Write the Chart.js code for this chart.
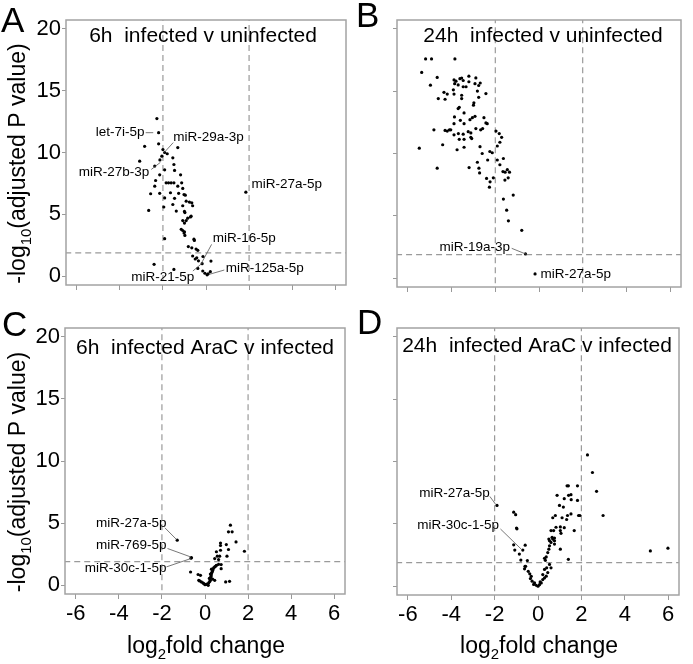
<!DOCTYPE html>
<html>
<head>
<meta charset="utf-8">
<script src="https://cdn.jsdelivr.net/npm/chart.js@4.4.1/dist/chart.umd.min.js"></script>
<style>
  body { margin: 0; background: #fff; }
  canvas { position: absolute; }
</style>
</head>
<body>
<canvas id="cA" width="350" height="300" style="left:0;top:0"></canvas>
<canvas id="cB" width="343" height="300" style="left:350px;top:0"></canvas>
<canvas id="cC" width="350" height="364" style="left:0;top:300px"></canvas>
<canvas id="cD" width="343" height="364" style="left:350px;top:300px"></canvas>
<script>
// log2 fold change / -log10 adjusted P
const pts6hInf = [[-2.28,12.74],[-2.2,11.6],[-2.85,10.5],[-2.2,10.7],[-2.0,10.24],[-1.92,10.0],[-1.8,9.9],[-2.05,9.7],[-1.31,10.4],[-3.08,9.3],[-2.14,9.4],[-1.54,9.57],[-1.49,9.03],[-2.38,8.9],[-1.92,8.6],[-1.46,8.55],[-2.15,8.2],[-1.18,8.2],[-2.34,7.74],[-1.85,7.55],[-1.74,7.55],[-1.62,7.55],[-1.49,7.55],[-1.13,7.55],[-2.38,7.28],[-1.31,7.28],[-1.08,7.1],[-2.57,6.67],[-2.15,6.7],[-1.65,6.75],[-1.27,6.7],[-1.02,6.6],[-0.96,6.55],[-1.92,6.33],[-1.46,6.3],[-0.92,6.07],[-0.77,6.0],[-0.66,5.94],[-1.96,5.6],[-1.54,5.8],[-1.08,5.7],[-2.66,5.32],[-0.62,5.7],[-1.0,5.24],[-0.98,5.15],[-1.38,5.27],[-0.69,4.86],[-0.85,4.7],[-0.92,4.5],[-1.08,4.5],[-1.0,4.3],[-0.72,4.8],[-1.15,3.8],[-1.08,3.7],[-1.0,3.6],[-1.92,3.04],[-1.02,3.5],[-0.98,3.3],[-0.54,2.9],[-0.56,3.0],[-0.82,2.4],[-0.66,2.3],[-0.46,2.2],[-0.38,2.1],[-0.62,1.64],[-0.43,1.5],[-0.5,1.4],[-0.35,1.25],[-0.14,1.6],[0.23,1.23],[-0.18,1.02],[-2.41,0.97],[-1.49,0.56],[-0.38,0.64],[-0.15,0.43],[-0.05,0.25],[0.05,0.12],[0.1,0.2],[0.2,0.38],[1.85,6.8]];
const pts24hInf = [[-5.19,17.58],[-4.92,17.58],[-3.85,17.58],[-5.37,16.5],[-4.66,16.1],[-4.97,15.48],[-3.21,16.2],[-2.89,16.06],[-3.89,15.9],[-3.8,15.8],[-3.62,16.0],[-3.54,16.05],[-3.47,15.85],[-3.7,15.5],[-3.86,15.6],[-3.21,15.75],[-2.93,15.6],[-2.69,15.65],[-2.76,15.45],[-3.47,15.35],[-3.34,15.35],[-3.92,15.1],[-4.35,14.9],[-4.2,14.76],[-3.89,14.76],[-2.82,15.0],[-2.43,14.8],[-4.61,14.4],[-4.3,14.35],[-3.54,14.67],[-3.54,14.4],[-2.76,14.5],[-2.98,14.06],[-3.0,13.87],[-3.65,13.7],[-3.7,13.6],[-3.87,12.93],[-3.43,13.25],[-3.16,12.71],[-3.05,12.87],[-2.93,12.98],[-3.89,12.39],[-3.6,12.66],[-3.43,12.39],[-2.52,12.87],[-2.43,12.45],[-2.37,12.39],[-4.81,11.9],[-4.3,11.85],[-4.2,11.8],[-4.1,11.9],[-4.04,11.9],[-3.89,11.5],[-3.69,11.6],[-3.47,11.55],[-3.24,11.75],[-3.12,11.65],[-2.89,12.0],[-2.67,11.9],[-2.58,12.0],[-1.97,11.8],[-1.82,11.6],[-1.71,11.3],[-3.65,11.14],[-3.43,11.14],[-3.12,11.3],[-3.08,11.2],[-1.79,10.9],[-1.91,10.6],[-5.48,10.43],[-4.41,10.7],[-3.75,10.3],[-3.43,10.5],[-2.7,10.55],[-2.25,10.16],[-2.14,10.06],[-2.6,10.0],[-2.35,9.48],[-1.91,9.48],[-1.63,9.6],[-2.82,9.3],[-1.79,9.1],[-4.66,8.82],[-3.2,8.87],[-2.75,8.82],[-2.72,8.44],[-1.45,8.7],[-1.55,8.5],[-1.65,8.55],[-1.35,8.5],[-2.4,8.0],[-2.24,7.73],[-2.09,8.05],[-2.27,7.3],[-1.56,7.87],[-1.41,8.05],[-1.18,6.67],[-1.63,6.35],[-1.48,5.46],[-1.4,4.6],[-0.79,3.84],[-0.62,1.95],[-0.18,0.35]];
const pts6hAraC = [[-1.29,3.63],[-0.63,2.23],[-0.65,2.18],[-0.67,1.07],[-0.32,0.87],[-0.21,0.8],[-0.29,0.4],[-0.25,0.35],[-0.17,0.27],[-0.1,0.2],[-0.05,0.13],[0.0,0.05],[0.06,0.08],[0.1,0.1],[0.15,0.0],[0.17,0.19],[0.22,0.3],[0.2,0.55],[0.25,0.4],[0.35,0.5],[0.26,0.62],[0.28,0.7],[0.29,0.83],[0.25,0.9],[0.3,0.95],[0.32,1.05],[0.35,1.15],[0.37,1.26],[0.3,1.3],[0.4,1.4],[0.45,1.48],[0.5,1.55],[0.53,1.61],[0.63,1.69],[0.75,1.67],[0.75,1.34],[0.45,0.4],[0.96,0.27],[1.14,0.32],[0.57,2.34],[0.68,2.34],[0.53,2.7],[0.72,2.82],[0.72,3.2],[0.72,3.4],[0.99,3.28],[1.09,2.88],[1.02,2.34],[1.44,3.49],[1.18,4.84],[1.09,4.3],[1.26,4.3],[1.83,2.74],[0.45,2.15],[0.63,2.07]];
const pts24hAraC = [[-1.89,6.48],[-1.12,5.94],[-1.03,5.74],[-0.99,4.67],[-0.97,4.6],[-1.12,3.32],[-1.07,2.9],[-0.7,2.9],[-0.59,3.29],[-0.86,2.58],[-0.79,2.1],[-0.49,2.06],[-0.57,1.6],[-0.6,1.6],[-0.62,1.4],[-0.45,1.2],[-0.38,1.0],[-0.31,0.8],[-0.35,0.62],[-0.27,0.41],[-0.2,0.15],[-0.16,0.27],[-0.08,0.08],[0.0,0.0],[0.07,0.13],[0.1,0.35],[0.15,0.27],[0.22,0.54],[0.3,0.67],[0.38,0.81],[0.22,0.94],[0.45,1.1],[0.3,1.35],[0.4,1.48],[0.53,1.75],[0.6,1.48],[0.3,2.24],[0.38,2.35],[0.34,2.08],[0.45,2.7],[0.5,2.97],[0.53,3.24],[0.6,3.51],[0.68,3.78],[0.76,3.86],[0.65,3.92],[0.53,3.65],[0.76,3.65],[0.5,3.78],[0.76,3.38],[0.6,4.46],[0.72,4.46],[0.68,5.49],[0.8,5.67],[1.03,4.46],[1.06,4.24],[1.03,2.97],[0.83,4.73],[1.03,4.76],[1.21,4.7],[1.11,5.49],[1.32,5.35],[1.36,5.67],[1.52,5.8],[0.99,6.48],[1.17,6.35],[1.21,7.02],[1.41,7.29],[1.52,7.34],[1.53,6.94],[1.34,8.05],[1.4,8.05],[0.88,7.29],[1.82,8.05],[1.82,6.88],[1.87,5.67],[1.93,5.67],[1.67,4.46],[1.4,2.16],[2.28,10.53],[2.51,9.12],[2.7,7.61],[3.0,5.67],[5.18,2.83],[5.99,3.05]];

const xTicks = [-6, -4, -2, 0, 2, 4, 6];
const yTicks = [0, 5, 10, 15, 20];
const foldCut = [-2, 2];
const pCut = 1.9;

const titles = ['6h  infected v uninfected', '24h  infected v uninfected', '6h  infected AraC v infected', '24h  infected AraC v infected'];

// labelled miRNAs: text anchor and leader line, in data units
const labelsA = [
  { text: 'let-7i-5p', x: -2.86, y: 11.6, align: 'right', line: [-2.8, 11.6, -2.45, 11.6] },
  { text: 'miR-29a-3p', x: -1.52, y: 11.2, align: 'left', line: [-1.52, 10.8, -1.94, 10.0] },
  { text: 'miR-27b-3p', x: -2.63, y: 8.4, align: 'right', line: [-2.54, 8.63, -2.12, 9.2] },
  { text: 'miR-27a-5p', x: 2.11, y: 7.42, align: 'left', line: null },
  { text: 'miR-16-5p', x: 0.31, y: 3.06, align: 'left', line: [0.26, 2.58, -0.2, 1.1] },
  { text: 'miR-21-5p', x: -0.54, y: -0.05, align: 'right', line: [-0.61, 0.43, -0.15, 1.1] },
  { text: 'miR-125a-5p', x: 0.92, y: 0.62, align: 'left', line: [0.85, 0.51, 0.15, 0.16] }
];
const labelsB = [
  { text: 'miR-19a-3p', x: -1.33, y: 2.5, align: 'right', line: [-1.25, 2.4, -0.56, 1.91] },
  { text: 'miR-27a-5p', x: 0.07, y: 0.3, align: 'left', line: null }
];
const labelsC = [
  { text: 'miR-27a-5p', x: -1.79, y: 5.02, align: 'right', line: [-1.86, 4.62, -1.32, 3.68] },
  { text: 'miR-769-5p', x: -1.79, y: 3.23, align: 'right', line: [-1.74, 2.96, -0.66, 2.28] },
  { text: 'miR-30c-1-5p', x: -1.79, y: 1.34, align: 'right', line: [-1.79, 1.48, -0.66, 2.15] }
];
const labelsD = [
  { text: 'miR-27a-5p', x: -2.22, y: 7.47, align: 'right', line: [-2.22, 7.2, -1.95, 6.56] },
  { text: 'miR-30c-1-5p', x: -1.8, y: 4.86, align: 'right', line: [-1.73, 4.59, -0.77, 2.97] }
];

const FONT = 'Liberation Sans, Arial, sans-serif';

// text with subscript pieces: [[str, isSub], ...]
function drawParts(ctx, parts, x, y, size) {
  const sub = size * 0.65;
  let w = 0;
  parts.forEach(p => {
    ctx.font = (p[1] ? sub : size) + 'px ' + FONT;
    w += ctx.measureText(p[0]).width;
  });
  let cx = x - w / 2;
  parts.forEach(p => {
    ctx.font = (p[1] ? sub : size) + 'px ' + FONT;
    ctx.fillText(p[0], cx, p[1] ? y + size * 0.28 : y);
    cx += ctx.measureText(p[0]).width;
  });
}

const decor = {
  id: 'decor',
  afterDraw(chart, args, o) {
    const ctx = chart.ctx, a = chart.chartArea;
    const sx = chart.scales.x, sy = chart.scales.y;
    ctx.save();
    // box
    ctx.strokeStyle = '#a3a3a3';
    ctx.lineWidth = 1.5;
    ctx.strokeRect(a.left, a.top, a.right - a.left, a.bottom - a.top);
    ctx.fillStyle = '#000';
    ctx.textAlign = 'left';
    ctx.textBaseline = 'alphabetic';
    // panel letter
    ctx.font = '35px ' + FONT;
    ctx.fillText(o.letter, o.letterX, o.letterY);
    // title
    ctx.font = '21px ' + FONT;
    ctx.textAlign = 'center';
    ctx.fillText(o.title, o.titleX, o.titleY);
    // labels
    ctx.font = '13.5px ' + FONT;
    ctx.textBaseline = 'middle';
    o.labels.forEach(l => {
      ctx.textAlign = l.align;
      ctx.fillText(l.text, sx.getPixelForValue(l.x), sy.getPixelForValue(l.y));
      if (l.line) {
        ctx.strokeStyle = '#555';
        ctx.lineWidth = 0.8;
        ctx.beginPath();
        ctx.moveTo(sx.getPixelForValue(l.line[0]), sy.getPixelForValue(l.line[1]));
        ctx.lineTo(sx.getPixelForValue(l.line[2]), sy.getPixelForValue(l.line[3]));
        ctx.stroke();
      }
    });
    ctx.textAlign = 'left';
    ctx.textBaseline = 'alphabetic';
    if (o.yTitle) {
      ctx.save();
      ctx.translate(25, (a.top + a.bottom) / 2 + 11);
      ctx.rotate(-Math.PI / 2);
      drawParts(ctx, [['-log', 0], ['10', 1], ['(adjusted P value)', 0]], 0, 0, 23);
      ctx.restore();
    }
    if (o.xTitle) {
      drawParts(ctx, [['log', 0], ['2', 1], ['fold change', 0]], (a.left + a.right) / 2 + 1, 353, 23);
    }
    ctx.restore();
  }
};

function makePanel(id, pts, o) {
  const datasets = [
    { data: pts.map(p => ({ x: p[0], y: p[1] })), pointRadius: 1.6, pointBackgroundColor: '#000', pointBorderWidth: 0 }
  ];
  foldCut.forEach(c => datasets.push({
    data: [{ x: c, y: -2 }, { x: c, y: 22 }], showLine: true, pointRadius: 0,
    borderColor: '#9a9a9a', borderWidth: 1.2, borderDash: [6, 4]
  }));
  datasets.push({
    data: [{ x: -7, y: pCut }, { x: 7, y: pCut }], showLine: true, pointRadius: 0,
    borderColor: '#9a9a9a', borderWidth: 1.2, borderDash: [6, 4]
  });
  const tickFont = { family: FONT, size: 22 };
  new Chart(document.getElementById(id), {
    type: 'scatter',
    data: { datasets },
    options: {
      responsive: false, animation: false, devicePixelRatio: 1,
      layout: { padding: o.pad },
      plugins: { legend: { display: false }, tooltip: { enabled: false }, decor: o },
      scales: {
        x: {
          type: 'linear', min: -6.5, max: 6.5,
          afterBuildTicks: s => { s.ticks = xTicks.map(v => ({ value: v })); },
          afterFit: s => { s.height = o.xH; },
          ticks: { display: o.xLabels, font: tickFont, color: '#000', padding: 2, maxRotation: 0 },
          grid: { drawOnChartArea: false, tickLength: 5, color: '#999' },
          border: { display: false }
        },
        y: {
          type: 'linear', min: -0.7, max: 20.7,
          afterBuildTicks: s => { s.ticks = yTicks.map(v => ({ value: v })); },
          afterFit: s => { s.width = o.yW; },
          ticks: { display: o.yLabels, font: tickFont, color: '#000', padding: 1 },
          grid: { drawOnChartArea: false, tickLength: 4, color: '#999' },
          border: { display: false }
        }
      }
    },
    plugins: [decor]
  });
}

makePanel('cA', pts6hInf, {
  pad: { top: 20, right: 4, left: 0, bottom: 0 }, xH: 15, yW: 66,
  xLabels: false, yLabels: true, yTitle: true, xTitle: false,
  letter: 'A', letterX: 1, letterY: 32, title: titles[0], titleX: 203, titleY: 42, labels: labelsA
});
makePanel('cB', pts24hInf, {
  pad: { top: 20, right: 12, left: 0, bottom: 0 }, xH: 13, yW: 47,
  xLabels: false, yLabels: false, yTitle: false, xTitle: false,
  letter: 'B', letterX: 6, letterY: 27, title: titles[1], titleX: 193, titleY: 42, labels: labelsB
});
makePanel('cC', pts6hAraC, {
  pad: { top: 28, right: 5, left: 0, bottom: 0 }, xH: 70, yW: 65,
  xLabels: true, yLabels: true, yTitle: true, xTitle: true,
  letter: 'C', letterX: 2, letterY: 36, title: titles[2], titleX: 205, titleY: 54, labels: labelsC
});
makePanel('cD', pts24hAraC, {
  pad: { top: 28, right: 14, left: 0, bottom: 0 }, xH: 69, yW: 47,
  xLabels: true, yLabels: false, yTitle: false, xTitle: true,
  letter: 'D', letterX: 7, letterY: 34, title: titles[3], titleX: 187, titleY: 52, labels: labelsD
});
</script>
</body>
</html>
